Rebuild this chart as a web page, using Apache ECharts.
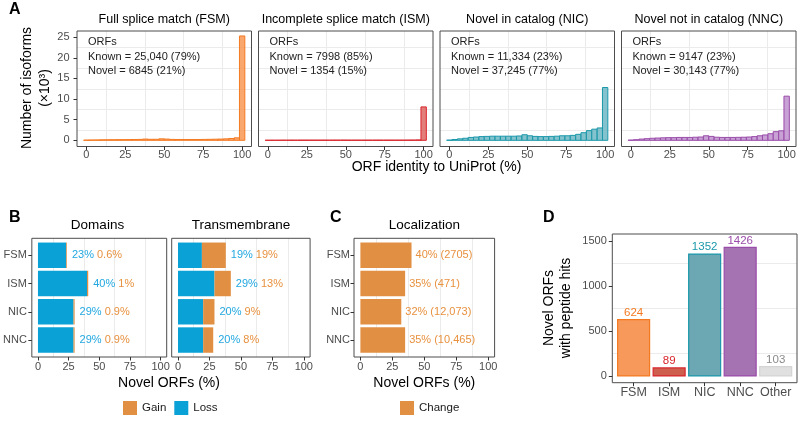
<!DOCTYPE html>
<html><head><meta charset="utf-8">
<script src="https://cdn.jsdelivr.net/npm/echarts@6/dist/echarts.min.js"></script>
<style>html,body{margin:0;padding:0;background:#fff}#c{width:800px;height:422px}</style>
</head><body><div id="c"></div>
<script>
const FONT = '"Liberation Sans", Arial, Helvetica, sans-serif';

// ---------- Panel A data (histograms, counts x10^3) ----------
const histBinCenters = [0, 3.4, 6.9, 10.3, 13.8, 17.2, 20.7, 24.1, 27.6, 31.0, 34.5, 37.9, 41.4, 44.8, 48.3, 51.7, 55.2, 58.6, 62.1, 65.5, 69.0, 72.4, 75.9, 79.3, 82.8, 86.2, 89.7, 93.1, 96.6, 100];
const histBinWidth = 3.45;
const fsmCounts = [0.05, 0.08, 0.1, 0.12, 0.14, 0.15, 0.16, 0.17, 0.18, 0.2, 0.22, 0.3, 0.25, 0.25, 0.35, 0.3, 0.22, 0.2, 0.2, 0.2, 0.2, 0.2, 0.22, 0.24, 0.27, 0.3, 0.35, 0.45, 0.6, 25.3];
const ismCounts = [0.02, 0.03, 0.03, 0.04, 0.04, 0.04, 0.05, 0.05, 0.05, 0.05, 0.05, 0.05, 0.05, 0.05, 0.06, 0.05, 0.05, 0.05, 0.05, 0.05, 0.05, 0.05, 0.05, 0.05, 0.05, 0.05, 0.06, 0.07, 0.1, 8.1];
const nicCounts = [0.05, 0.2, 0.35, 0.5, 0.7, 0.8, 0.9, 0.95, 1.0, 1.0, 1.0, 1.0, 1.0, 1.05, 1.35, 1.1, 0.95, 0.9, 0.9, 0.95, 1.0, 1.1, 1.1, 1.2, 1.45, 1.85, 2.35, 2.7, 3.0, 12.8];
const nncCounts = [0.05, 0.15, 0.3, 0.4, 0.5, 0.55, 0.6, 0.65, 0.65, 0.7, 0.7, 0.7, 0.75, 0.8, 1.1, 0.95, 0.75, 0.7, 0.7, 0.7, 0.72, 0.75, 0.8, 0.9, 1.1, 1.3, 1.6, 2.1, 2.3, 10.7];
const histTitles = ['Full splice match (FSM)', 'Incomplete splice match (ISM)', 'Novel in catalog (NIC)', 'Novel not in catalog (NNC)'];
const knownLabels = ['Known = 25,040 (79%)', 'Known = 7998 (85%)', 'Known = 11,334 (23%)', 'Known = 9147 (23%)'];
const novelLabels = ['Novel = 6845 (21%)', 'Novel = 1354 (15%)', 'Novel = 37,245 (77%)', 'Novel = 30,143 (77%)'];
const histXTicks = [0, 25, 50, 75, 100];
const histXMinor = [12.5, 37.5, 62.5, 87.5];
const histYTicks = [0, 5, 10, 15, 20, 25];
const histYMinor = [2.5, 7.5, 12.5, 17.5, 22.5];

// ---------- Panel B / C data ----------
const orfCategories = ['FSM', 'ISM', 'NIC', 'NNC'];
const domainLoss = [23, 40, 29, 29];
const domainGain = [0.6, 1, 0.9, 0.9];
const tmLoss = [19, 29, 20, 20];
const tmGain = [19, 13, 9, 8];
const locChange = [40, 35, 32, 35];
const locCounts = ['2705', '471', '12,073', '10,465'];
const pctTicks = [0, 25, 50, 75, 100];
const pctMinor = [12.5, 37.5, 62.5, 87.5];

// ---------- Panel D data ----------
const pepCategories = ['FSM', 'ISM', 'NIC', 'NNC', 'Other'];
const pepHits = [624, 89, 1352, 1426, 103];
const pepTicks = [0, 500, 1000, 1500];
const pepMinor = [250, 750, 1250];

// ---------- styles ----------
const histStroke = ['#F47A22', '#D8262D', '#1B98AA', '#9A4CAA'];
const histFill = ['rgba(248,152,84,0.85)', 'rgba(222,105,100,0.85)', 'rgba(110,184,197,0.85)', 'rgba(190,145,206,0.85)'];
const pepFill = ['#F7995A', '#CE5E4E', '#6CA7B4', '#A573B1', '#E0E0E0'];
const pepStroke = ['#F47A22', '#D8262D', '#1B98AA', '#9A4CAA', '#D4D4D4'];
const pepLabelColor = ['#F47A22', '#D8262D', '#1B98AA', '#9A4CAA', '#8A8A8A'];
const lossColor = '#0AA1D6', gainColor = '#E18F43';
const lossText = '#22A8E0', gainText = '#E8913F';

const chart = echarts.init(document.getElementById('c'), null, {renderer: 'canvas', width: 800, height: 422});
const grids = [], xAxes = [], yAxes = [], series = [], graphics = [];

function txt(x, y, text, o) {
  o = o || {};
  graphics.push({type: 'text', x: x, y: y, rotation: o.rot || 0, silent: true, z: 100,
    style: {text: text, fill: o.color || '#000', font: (o.weight || 'normal') + ' ' + (o.size || 14) + 'px ' + FONT,
      align: o.align || 'center', textAlign: o.align || 'center', verticalAlign: 'middle', textVerticalAlign: 'middle'}});
}
function addGrid(g) {
  grids.push(Object.assign({show: true, borderColor: '#4d4d4d', borderWidth: 1, backgroundColor: 'transparent', containLabel: false, z: 3}, g));
  return grids.length - 1;
}
function majorAxis(gi, min, max, ticks, o) {
  return {type: 'value', gridIndex: gi, min: min, max: max, position: o.position, inverse: !!o.inverse, z: 4,
    axisLine: {show: false, onZero: false}, splitLine: {show: false},
    axisTick: {show: !!o.show, customValues: ticks, length: 3.5, lineStyle: {color: '#333', width: 1}},
    axisLabel: {show: !!o.show, customValues: ticks, margin: o.margin, fontSize: o.fontSize || 11, color: '#4d4d4d', fontFamily: FONT,
      formatter: o.formatter || (v => String(v))}};
}
function minorAxis(gi, min, max, vals, position, inverse) {
  return {type: 'value', gridIndex: gi, min: min, max: max, position: position, inverse: !!inverse, z: 0,
    axisLine: {show: false, onZero: false}, axisTick: {show: false, customValues: vals}, axisLabel: {show: false},
    splitLine: {show: true, lineStyle: {color: '#ebebeb', width: 1}}};
}
function addX(a) { xAxes.push(a); return xAxes.length - 1; }
function addY(a) { yAxes.push(a); return yAxes.length - 1; }

// ---------- Panel A ----------
const histCounts = [fsmCounts, ismCounts, nicCounts, nncCounts];
const aLefts = [77, 258.5, 440, 621.5];
const aW = 174.5, aTop = 31, aH = 115.5;
histCounts.forEach((counts, i) => {
  const gi = addGrid({left: aLefts[i], top: aTop, width: aW, height: aH});
  const xi = addX(majorAxis(gi, -6, 106, histXTicks, {position: 'bottom', show: true, margin: 3}));
  addX(minorAxis(gi, -6, 106, histXMinor, 'top'));
  const yi = addY(majorAxis(gi, -1.5, 26.5, histYTicks, {position: 'left', show: i === 0, margin: 7.5}));
  addY(minorAxis(gi, -1.5, 26.5, histYMinor, 'right'));
  const stroke = histStroke[i], fill = histFill[i];
  series.push({type: 'custom', name: histTitles[i], xAxisIndex: xi, yAxisIndex: yi, clip: true,
    data: histBinCenters.map((c, j) => [c, counts[j]]),
    renderItem: function (params, api) {
      const c = api.value(0), v = api.value(1);
      const a = api.coord([c - histBinWidth / 2, v]);
      const b = api.coord([c + histBinWidth / 2, 0]);
      return {type: 'rect', shape: {x: a[0], y: a[1], width: b[0] - a[0], height: b[1] - a[1]},
        style: {fill: fill, stroke: stroke, lineWidth: 1}};
    }});
  const cx = aLefts[i] + aW / 2;
  txt(cx, 20, histTitles[i], {size: 12.5});
  const lx = aLefts[i] + 11;
  txt(lx, 42, 'ORFs', {size: 11, align: 'left', color: '#222'});
  txt(lx, 56.5, knownLabels[i], {size: 11, align: 'left', color: '#222'});
  txt(lx, 70.5, novelLabels[i], {size: 11, align: 'left', color: '#222'});
});
txt(9, 10, 'A', {size: 16, weight: 'bold', align: 'left'});
txt(27, 88, 'Number of isoforms', {size: 14, rot: Math.PI / 2});
txt(45, 88, '(\u00d710\u00b3)', {size: 14, rot: Math.PI / 2});
txt(436.5, 167, 'ORF identity to UniProt (%)', {size: 14});

// ---------- Panel B / C ----------
const bTop = 238.3, bH = 118.7;
const catFmt = v => orfCategories[Math.round(v) - 1] || '';
function stackedPanel(left, width, showY, lossArr, gainArr) {
  const gi = addGrid({left: left, top: bTop, width: width, height: bH});
  const xi = addX(majorAxis(gi, -5, 105, pctTicks, {position: 'bottom', show: true, margin: 4}));
  addX(minorAxis(gi, -5, 105, pctMinor, 'top'));
  const yi = addY(majorAxis(gi, 0.4, 4.6, [1, 2, 3, 4], {position: 'left', show: showY, margin: 5, inverse: true, formatter: catFmt}));
  series.push({type: 'custom', name: 'Loss', xAxisIndex: xi, yAxisIndex: yi, itemStyle: {color: lossColor},
    data: lossArr.map((v, k) => [k + 1, v]),
    renderItem: function (params, api) {
      const p = api.value(0), v = api.value(1);
      const a = api.coord([0, p - 0.45]), b = api.coord([v, p + 0.45]);
      return {type: 'rect', shape: {x: a[0], y: Math.min(a[1], b[1]), width: b[0] - a[0], height: Math.abs(b[1] - a[1])},
        style: {fill: lossColor}};
    }});
  series.push({type: 'custom', name: 'Gain', xAxisIndex: xi, yAxisIndex: yi, itemStyle: {color: gainColor},
    data: lossArr.map((v, k) => [k + 1, v, gainArr[k]]),
    renderItem: function (params, api) {
      const p = api.value(0), l = api.value(1), g = api.value(2);
      const a = api.coord([l, p - 0.45]), b = api.coord([l + g, p + 0.45]);
      const m = api.coord([l + g, p]);
      return {type: 'group', children: [
        {type: 'rect', shape: {x: a[0], y: Math.min(a[1], b[1]), width: b[0] - a[0], height: Math.abs(b[1] - a[1])}, style: {fill: gainColor}},
        {type: 'text', x: m[0] + 5, y: m[1], style: {text: '{l|' + l + '%} {g|' + g + '%}',
          rich: {l: {fill: lossText, color: lossText, fontSize: 11, fontFamily: FONT}, g: {fill: gainText, color: gainText, fontSize: 11, fontFamily: FONT}},
          fill: gainText, font: '11px ' + FONT, align: 'left', textAlign: 'left', verticalAlign: 'middle', textVerticalAlign: 'middle'}}
      ]};
    }});
}
stackedPanel(28.3, 138.4, true, domainLoss, domainGain);
stackedPanel(171.7, 138.4, false, tmLoss, tmGain);
txt(97.5, 225, 'Domains', {size: 13.5});
txt(241, 225, 'Transmembrane', {size: 13.5});
txt(9, 218, 'B', {size: 16, weight: 'bold', align: 'left'});
txt(169, 383, 'Novel ORFs (%)', {size: 14});

// Panel C
(function () {
  const gi = addGrid({left: 354, top: bTop, width: 140.6, height: bH});
  const xi = addX(majorAxis(gi, -5, 105, pctTicks, {position: 'bottom', show: true, margin: 4}));
  addX(minorAxis(gi, -5, 105, pctMinor, 'top'));
  const yi = addY(majorAxis(gi, 0.4, 4.6, [1, 2, 3, 4], {position: 'left', show: true, margin: 4, inverse: true, formatter: catFmt}));
  series.push({type: 'custom', name: 'Change', xAxisIndex: xi, yAxisIndex: yi, itemStyle: {color: gainColor},
    data: locChange.map((v, k) => [k + 1, v]),
    renderItem: function (params, api) {
      const p = api.value(0), v = api.value(1);
      const a = api.coord([0, p - 0.45]), b = api.coord([v, p + 0.45]), m = api.coord([v, p]);
      return {type: 'group', children: [
        {type: 'rect', shape: {x: a[0], y: Math.min(a[1], b[1]), width: b[0] - a[0], height: Math.abs(b[1] - a[1])}, style: {fill: gainColor}},
        {type: 'text', x: m[0] + 4, y: m[1], style: {text: v + '% (' + locCounts[params.dataIndex] + ')', fill: gainText,
          font: '11px ' + FONT, align: 'left', textAlign: 'left', verticalAlign: 'middle', textVerticalAlign: 'middle'}}
      ]};
    }});
  txt(424.3, 225, 'Localization', {size: 13.5});
  txt(330, 218, 'C', {size: 16, weight: 'bold', align: 'left'});
  txt(424.3, 383, 'Novel ORFs (%)', {size: 14});
})();

// ---------- Panel D ----------
(function () {
  const gi = addGrid({left: 612.3, top: 234, width: 184.7, height: 148.7});
  const xi = addX(majorAxis(gi, 0.4, 5.6, [1, 2, 3, 4, 5], {position: 'bottom', show: true, margin: 3, fontSize: 12.5,
    formatter: v => pepCategories[Math.round(v) - 1] || ''}));
  const yi = addY(majorAxis(gi, -75, 1575, pepTicks, {position: 'left', show: true, margin: 5.5}));
  addY(minorAxis(gi, -75, 1575, pepMinor, 'right'));
  series.push({type: 'custom', name: 'peptide hits', xAxisIndex: xi, yAxisIndex: yi,
    data: pepHits.map((v, k) => [k + 1, v]),
    renderItem: function (params, api) {
      const p = api.value(0), v = api.value(1), k = params.dataIndex;
      const a = api.coord([p - 0.45, v]), b = api.coord([p + 0.45, 0]), t = api.coord([p, v]);
      return {type: 'group', children: [
        {type: 'rect', shape: {x: a[0], y: a[1], width: b[0] - a[0], height: b[1] - a[1]}, style: {fill: pepFill[k], stroke: pepStroke[k], lineWidth: 1.2}},
        {type: 'text', x: t[0], y: t[1] - 1, style: {text: String(v), fill: pepLabelColor[k], font: '11.5px ' + FONT,
          align: 'center', textAlign: 'center', verticalAlign: 'bottom', textVerticalAlign: 'bottom'}}
      ]};
    }});
  txt(543, 218, 'D', {size: 16, weight: 'bold', align: 'left'});
  txt(549, 308, 'Novel ORFs', {size: 14, rot: Math.PI / 2});
  txt(566, 308, 'with peptide hits', {size: 14, rot: Math.PI / 2});
})();

const legendCommon = {orient: 'horizontal', padding: 0, itemWidth: 14, itemHeight: 14, itemGap: 8, icon: 'rect', selectedMode: false,
  textStyle: {fontSize: 11.5, color: '#1a1a1a', fontFamily: FONT}};
chart.setOption({
  animation: false,
  backgroundColor: '#ffffff',
  textStyle: {fontFamily: FONT},
  grid: grids, xAxis: xAxes, yAxis: yAxes, series: series,
  legend: [Object.assign({data: ['Gain', 'Loss'], left: 123, top: 401}, legendCommon),
           Object.assign({data: ['Change'], left: 400, top: 401}, legendCommon)],
  graphic: graphics
});
</script></body></html>
